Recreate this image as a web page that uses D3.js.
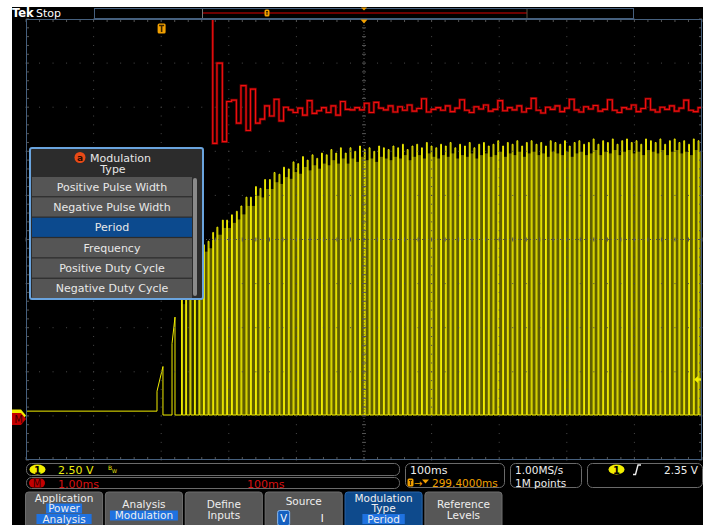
<!DOCTYPE html>
<html>
<head>
<meta charset="utf-8">
<script src="https://cdn.jsdelivr.net/npm/d3@7"></script>
<style>
  body { margin: 0; background: #fff; }
  svg { display: block; }
  text { font-family: "DejaVu Sans", sans-serif; }
</style>
</head>
<body>
<script>
// scope settings
var horizMsPerDiv = 100;
var delayMs = 299.4;
var ch1VoltsPerDiv = 2.5;
var ch1PosDiv = -4.0;
var mathMsPerDiv = 1.0;
var mathPosDiv = -4.07;
var trigLevelV = 2.35;

// CH1 (yellow) : idle / low levels and the first two start-up pulses
var idleLevelV = 0.27;
var lowLevelV = 0.05;
var startRiseMs = [-6.8, 15.4];
var startFallMs = [2.0, 19.8];
var startTopV0 = [1.4, 4.1];
var startTopV1 = [2.8, 5.6];

// periods of the pulses before the math trace begins
var earlyStartMs = 29.4;
var earlyPeriodMs = [6.2, 6.4, 6.6, 6.6, 6.8, 6.8, 6.8];
var pulseOnMs = 1.3;

// math trace (period of each cycle, ms)
var mathStartMs = 75.6;
var mathOverMs = 11.5;
var mathPeriodMs = [
  6.25, 8.07, 6.29, 7.20, 7.23, 6.71, 7.56, 6.54, 7.48, 6.71,
  6.80, 7.10, 6.87, 7.25, 6.76, 7.07, 7.01, 6.95, 7.05, 6.89,
  7.22, 6.93, 6.99, 7.06, 6.95, 7.10, 6.89, 7.20, 7.02, 7.01,
  7.06, 7.01, 7.16, 6.95, 7.18, 7.05, 7.01, 7.10, 6.96,
  7.08, 7.00, 7.12, 6.98, 7.04, 7.26, 6.96, 7.02, 7.06, 7.00,
  7.10, 6.97, 7.05, 7.24, 7.00, 6.95, 7.08, 7.03, 7.12, 6.98,
  7.02, 7.22, 6.99, 7.06, 7.01, 7.10, 6.96, 7.04, 7.27, 7.00,
  6.94, 7.07, 7.02, 7.10, 6.97, 7.05, 7.25, 7.01, 6.96, 7.08,
  7.03, 7.11, 6.98, 7.02, 7.24, 7.00, 6.95, 7.06, 7.03, 7.12,
  6.97, 7.04, 7.26, 7.01, 6.96, 7.07, 7.02, 7.10, 6.98, 7.05,
  7.23, 7.00, 6.97, 7.06, 7.04
];

// pulse tops (V) for the early pulses followed by one per math cycle
var pulseTopV = [
  6.6, 7.3, 7.6, 8.5, 8.9, 9.7, 9.9,
  10.4, 10.7, 11.1, 11.1, 11.4, 11.6, 11.9, 12.4, 12.4, 13.0,
  12.9, 13.4, 13.4, 13.8, 13.7, 14.1, 14.0, 14.4, 14.3, 14.7,
  14.5, 14.8, 14.6, 14.9, 14.8, 15.1, 14.9, 15.2, 14.9, 15.2,
  15.0, 15.3, 15.1, 15.2, 15.0, 15.3, 15.2, 15.1, 15.3, 15.2,
  15.4, 15.1, 15.3, 15.4, 15.2, 15.5, 15.3, 15.2, 15.4, 15.3,
  15.5, 15.2, 15.4, 15.3, 15.5, 15.2, 15.4, 15.5, 15.3, 15.4,
  15.6, 15.3, 15.5, 15.4, 15.6, 15.3, 15.5, 15.6, 15.4, 15.5,
  15.3, 15.6, 15.5, 15.4, 15.6, 15.3, 15.5, 15.6, 15.4, 15.5,
  15.7, 15.4, 15.6, 15.5, 15.7, 15.4, 15.6, 15.7, 15.5, 15.6,
  15.4, 15.7, 15.6, 15.5, 15.7, 15.4, 15.6, 15.7, 15.5, 15.6,
  15.4, 15.7, 15.6, 15.5
];

var menuTitle = ["Modulation", "Type"];
var menuItems = ["Positive Pulse Width", "Negative Pulse Width", "Period",
                 "Frequency", "Positive Duty Cycle", "Negative Duty Cycle"];
var menuSelected = 2;

var buttons = [
  {lines: ["Application"], hl: ["Power", "Analysis"]},
  {lines: ["Analysis"], hl: ["Modulation"]},
  {lines: ["Define", "Inputs"], hl: []},
  {lines: ["Source"], hl: []},
  {lines: ["Modulation", "Type"], hl: ["Period"]},
  {lines: ["Reference", "Levels"], hl: []}
];

// layout
var W = 711, H = 525;
var gx0 = 26, gx1 = 702, gy0 = 19, gy1 = 460;

var svg = d3.select("body").append("svg")
    .attr("width", W)
    .attr("height", H);

svg.append("rect").attr("width", W).attr("height", H).attr("fill", "#fff");
svg.append("rect").attr("x", 12).attr("y", 7).attr("width", 691).attr("height", H - 7).attr("fill", "#000");

var xScale = d3.scaleLinear()
    .domain([delayMs - 5 * horizMsPerDiv, delayMs + 5 * horizMsPerDiv])
    .range([gx0, gx1]);
var divX = d3.scaleLinear().domain([-5, 5]).range([gx0, gx1]);
var divY = d3.scaleLinear().domain([-5, 5]).range([gy1, gy0]);
var ch1Y = function(v) { return divY(v / ch1VoltsPerDiv + ch1PosDiv); };
var mathY = function(ms) { return divY(ms / mathMsPerDiv + mathPosDiv); };

svg.append("defs").append("clipPath").attr("id", "grat")
  .append("rect").attr("x", gx0).attr("y", gy0).attr("width", gx1 - gx0).attr("height", gy1 - gy0);

var minorX = d3.range(0, 50.01, 1).map(function(i) { return -5 + i / 5; });
var minorY = d3.range(0, 50.01, 1).map(function(i) { return -5 + i / 5; });

// ---- waveforms
var edges = [];
var t = earlyStartMs;
earlyPeriodMs.forEach(function(p) { edges.push(t); t += p; });
var mathEdges = [];
t = mathStartMs;
mathPeriodMs.forEach(function(p) { edges.push(t); mathEdges.push(t); t += p; });
var lastEdge = t;

var wave = svg.append("g").attr("clip-path", "url(#grat)");

// dim persistence fill between the fast pulses
wave.selectAll("rect.fill")
  .data(edges)
  .enter().append("rect")
    .attr("class", "fill")
    .attr("x", function(d) { return xScale(d); })
    .attr("width", function(d, i) { return xScale(i + 1 < edges.length ? edges[i + 1] : lastEdge) - xScale(d); })
    .attr("y", function(d, i) { return ch1Y(pulseTopV[i] * 0.96); })
    .attr("height", function(d, i) { return ch1Y(lowLevelV) - ch1Y(pulseTopV[i] * 0.96); })
    .attr("fill", function(d, i) { return i < 4 ? "#2a2900" : "#605e00"; });

var pts = [{t: xScale.domain()[0], v: idleLevelV}];
var level = idleLevelV;
startRiseMs.forEach(function(r, i) {
  pts.push({t: r, v: level}, {t: r, v: startTopV0[i]}, {t: startFallMs[i], v: startTopV1[i]}, {t: startFallMs[i], v: lowLevelV});
  level = lowLevelV;
});
edges.forEach(function(r, i) {
  pts.push({t: r, v: lowLevelV}, {t: r, v: pulseTopV[i]}, {t: r + pulseOnMs, v: pulseTopV[i]}, {t: r + pulseOnMs, v: lowLevelV});
});
pts.push({t: xScale.domain()[1], v: lowLevelV});

var ch1Line = d3.line()
    .x(function(d) { return xScale(d.t); })
    .y(function(d) { return ch1Y(d.v); });

wave.append("path")
    .datum(pts)
    .attr("fill", "none")
    .attr("stroke", "#f2ee00")
    .attr("stroke-width", 1)
    .attr("d", ch1Line);

// ---- graticule (dots show through the traces)
var grid = svg.append("g");
d3.range(-4, 5).forEach(function(d) {
  if (d === 0) return;
  minorY.forEach(function(m) {
    grid.append("rect").attr("x", divX(d) - 0.5).attr("y", divY(m) - 0.5)
      .attr("width", 1).attr("height", 1).attr("fill", "#4a4a4a");
  });
  minorX.forEach(function(m) {
    grid.append("rect").attr("x", divX(m) - 0.5).attr("y", divY(d) - 0.5)
      .attr("width", 1).attr("height", 1).attr("fill", "#4a4a4a");
  });
});
grid.append("line").attr("x1", divX(0)).attr("x2", divX(0)).attr("y1", gy0).attr("y2", gy1)
  .attr("stroke", "#555").attr("stroke-dasharray", "1,2");
grid.append("line").attr("x1", gx0).attr("x2", gx1).attr("y1", divY(0)).attr("y2", divY(0))
  .attr("stroke", "#555").attr("stroke-dasharray", "1,2");
minorY.forEach(function(m) {
  grid.append("line").attr("x1", divX(0) - 2).attr("x2", divX(0) + 2).attr("y1", divY(m)).attr("y2", divY(m)).attr("stroke", "#555");
  grid.append("line").attr("x1", gx0).attr("x2", gx0 + 3).attr("y1", divY(m)).attr("y2", divY(m)).attr("stroke", "#555");
  grid.append("line").attr("x1", gx1 - 3).attr("x2", gx1).attr("y1", divY(m)).attr("y2", divY(m)).attr("stroke", "#555");
});
minorX.forEach(function(m) {
  grid.append("line").attr("y1", divY(0) - 2).attr("y2", divY(0) + 2).attr("x1", divX(m)).attr("x2", divX(m)).attr("stroke", "#555");
  grid.append("line").attr("y1", gy0).attr("y2", gy0 + 3).attr("x1", divX(m)).attr("x2", divX(m)).attr("stroke", "#555");
  grid.append("line").attr("y1", gy1 - 3).attr("y2", gy1).attr("x1", divX(m)).attr("x2", divX(m)).attr("stroke", "#555");
});

var mathPts = [{t: mathStartMs - 10, v: mathOverMs}];
mathEdges.forEach(function(e, i) { mathPts.push({t: e, v: mathPeriodMs[i]}); });
mathPts.push({t: lastEdge, v: mathPeriodMs[mathPeriodMs.length - 1]});

var mathLine = d3.line()
    .curve(d3.curveStepAfter)
    .x(function(d) { return xScale(d.t); })
    .y(function(d) { return mathY(d.v); });

var mwave = svg.append("g").attr("clip-path", "url(#grat)");
mwave.append("path").datum(mathPts)
    .attr("fill", "none").attr("stroke", "#6e0000").attr("stroke-width", 2.6)
    .attr("d", mathLine);
mwave.append("path").datum(mathPts)
    .attr("fill", "none").attr("stroke", "#f01010").attr("stroke-width", 1.1)
    .attr("d", mathLine);

svg.append("rect").attr("x", gx0 + 0.5).attr("y", gy0 + 0.5).attr("width", gx1 - gx0 - 1).attr("height", gy1 - gy0 - 1)
  .attr("fill", "none").attr("stroke", "#46607e");

// ---- top bar
svg.append("text").attr("x", 12).attr("y", 17).attr("fill", "#fff").attr("font-size", 11.5).attr("font-weight", "bold").text("Tek");
svg.append("text").attr("x", 36).attr("y", 17).attr("fill", "#fff").attr("font-size", 11).text("Stop");
svg.append("rect").attr("x", 94.5).attr("y", 8.5).attr("width", 539).attr("height", 10).attr("fill", "#000").attr("stroke", "#46607e");
svg.append("line").attr("x1", 203).attr("x2", 527).attr("y1", 13).attr("y2", 13).attr("stroke", "#6e0000").attr("stroke-width", 2);
svg.append("line").attr("x1", 202.5).attr("x2", 202.5).attr("y1", 9).attr("y2", 18).attr("stroke", "#777");
svg.append("line").attr("x1", 527).attr("x2", 527).attr("y1", 9).attr("y2", 18).attr("stroke", "#5a5040");

function trigBadge(g, x, y, w, h) {
  g.append("rect").attr("x", x).attr("y", y).attr("width", w).attr("height", h).attr("rx", 1.5).attr("fill", "#f2a000");
  g.append("path").attr("d", "M" + (x + 1.5) + "," + (y + 2) + "h" + (w - 3) + "M" + (x + w / 2) + "," + (y + 2) + "v" + (h - 3.5))
    .attr("stroke", "#3a2400").attr("stroke-width", w > 6 ? 1.6 : 1.1);
}
trigBadge(svg, 264.5, 9.5, 5, 7);
trigBadge(svg, xScale(0) - 4, 23.5, 8, 10);

var expX = xScale(delayMs);
svg.append("path").attr("d", "M" + (expX - 3) + ",7.5h6l-3,3z").attr("fill", "#f2a000");
svg.append("path").attr("d", "M" + (expX - 3.5) + ",19.5h7l-3.5,4z").attr("fill", "#f2a000");

// trigger level arrow at the right edge
var trigY = ch1Y(trigLevelV) + 5;
svg.append("path").attr("d", "M694," + trigY + "l4,-3.5v2.2h3v2.6h-3v2.2z").attr("fill", "#f2ee00");

// ground markers on the left (CH1 sits behind the math marker)
var m1 = ch1Y(0) - 0.5;
svg.append("path").attr("d", "M12," + (m1 - 6) + "h9l5,6l-5,6h-9z").attr("fill", "#f2ee00");
var mm = mathY(0);
svg.append("path").attr("d", "M12," + (mm - 6) + "h9l5,6l-5,6h-9z").attr("fill", "#c40000");
svg.append("text").attr("x", 18.5).attr("y", mm + 4).attr("text-anchor", "middle").attr("font-size", 10)
  .attr("fill", "#3a0000").text("M");

// ---- menu
var menu = svg.append("g");
var mx = 30, my = 148, mw = 173, mh = 151;
menu.append("rect").attr("x", mx).attr("y", my).attr("width", mw).attr("height", mh).attr("rx", 2)
  .attr("fill", "#2c2c2c").attr("stroke", "#6aa4de").attr("stroke-width", 2);
menu.append("circle").attr("cx", 80).attr("cy", 157.5).attr("r", 5.5).attr("fill", "#ea4a16");
menu.append("text").attr("x", 80).attr("y", 160.5).attr("text-anchor", "middle").attr("font-size", 9)
  .attr("font-weight", "bold").attr("fill", "#2a0a00").text("a");
menu.append("text").attr("x", 90).attr("y", 161.5).attr("font-size", 11).attr("fill", "#e6e6e6").text(menuTitle[0]);
menu.append("text").attr("x", 113).attr("y", 173).attr("text-anchor", "middle").attr("font-size", 11).attr("fill", "#e6e6e6").text(menuTitle[1]);
var rowY = d3.scaleBand().domain(d3.range(menuItems.length)).range([177, 298]).paddingInner(0.06);
menu.selectAll("rect.item").data(menuItems).enter().append("rect")
  .attr("class", "item")
  .attr("x", 32).attr("y", function(d, i) { return rowY(i); })
  .attr("width", 160).attr("height", rowY.bandwidth())
  .attr("fill", function(d, i) { return i === menuSelected ? "#0c4a8e" : "#555"; });
menu.selectAll("text.item").data(menuItems).enter().append("text")
  .attr("class", "item")
  .attr("x", 112).attr("y", function(d, i) { return rowY(i) + rowY.bandwidth() / 2 + 4; })
  .attr("text-anchor", "middle").attr("font-size", 11).attr("fill", "#e8e8e8")
  .text(function(d) { return d; });
menu.append("rect").attr("x", 193).attr("y", 178).attr("width", 4).attr("height", 118).attr("rx", 2).attr("fill", "#8a8a8a");

// ---- readouts
var stat = svg.append("g");
stat.append("rect").attr("x", 26.5).attr("y", 463.5).attr("width", 373).attr("height", 12).attr("rx", 5)
  .attr("fill", "none").attr("stroke", "#6a6a6a");
stat.append("rect").attr("x", 26.5).attr("y", 477.5).attr("width", 373).attr("height", 11).attr("rx", 5)
  .attr("fill", "none").attr("stroke", "#6a6a6a");
stat.append("ellipse").attr("cx", 37.5).attr("cy", 469.5).attr("rx", 8).attr("ry", 5).attr("fill", "#f2ee00");
stat.append("text").attr("x", 37.5).attr("y", 473.5).attr("text-anchor", "middle").attr("font-size", 10).attr("font-weight", "bold").attr("fill", "#000").text("1");
stat.append("text").attr("x", 58).attr("y", 473.5).attr("font-size", 11).attr("fill", "#ecec10").text("2.50 V");
stat.append("text").attr("x", 108).attr("y", 470).attr("font-size", 6).attr("fill", "#ecec10").text("B");
stat.append("text").attr("x", 112).attr("y", 473).attr("font-size", 5).attr("fill", "#ecec10").text("W");
stat.append("rect").attr("x", 29).attr("y", 478.5).attr("width", 16).attr("height", 9).attr("rx", 4.5).attr("fill", "#c40000");
stat.append("text").attr("x", 37).attr("y", 487).attr("text-anchor", "middle").attr("font-size", 10).attr("fill", "#3a0000").text("M");
stat.append("text").attr("x", 58).attr("y", 487.5).attr("font-size", 11).attr("fill", "#d81010").text("1.00ms");
stat.append("text").attr("x", 247).attr("y", 487.5).attr("font-size", 11).attr("fill", "#d81010").text("100ms");

stat.append("rect").attr("x", 405.5).attr("y", 463.5).attr("width", 99).attr("height", 24).attr("rx", 5)
  .attr("fill", "none").attr("stroke", "#6a6a6a");
stat.append("text").attr("x", 410).attr("y", 473.5).attr("font-size", 11).attr("fill", "#eee").text("100ms");
trigBadge(stat, 407.5, 478.5, 6, 8);
stat.append("text").attr("x", 414).attr("y", 486.5).attr("font-size", 10).attr("fill", "#f2a000").text("→");
stat.append("path").attr("d", "M422,479.5h7l-3.5,4z").attr("fill", "#f2a000");
stat.append("text").attr("x", 432).attr("y", 487).attr("font-size", 10.5).attr("fill", "#f2a000").text("299.4000ms");

stat.append("rect").attr("x", 510.5).attr("y", 463.5).attr("width", 71).attr("height", 24).attr("rx", 5)
  .attr("fill", "none").attr("stroke", "#6a6a6a");
stat.append("text").attr("x", 515).attr("y", 473.5).attr("font-size", 10.5).attr("fill", "#eee").text("1.00MS/s");
stat.append("text").attr("x", 515).attr("y", 487).attr("font-size", 10.5).attr("fill", "#eee").text("1M points");

stat.append("rect").attr("x", 587.5).attr("y", 463.5).attr("width", 115).attr("height", 24).attr("rx", 5)
  .attr("fill", "none").attr("stroke", "#6a6a6a");
stat.append("ellipse").attr("cx", 616.5).attr("cy", 469.5).attr("rx", 8).attr("ry", 5).attr("fill", "#f2ee00");
stat.append("text").attr("x", 616.5).attr("y", 473.5).attr("text-anchor", "middle").attr("font-size", 10).attr("font-weight", "bold").attr("fill", "#000").text("1");
stat.append("path").attr("d", "M633,474.5h2.5l2.5,-9.5h3").attr("fill", "none").attr("stroke", "#eee").attr("stroke-width", 1.4);
stat.append("text").attr("x", 698).attr("y", 473.5).attr("text-anchor", "end").attr("font-size", 10.5).attr("fill", "#eee").text("2.35 V");

// ---- soft buttons
var btnX = d3.scaleBand().domain(d3.range(6)).range([25.5, 502]).paddingInner(0.035);
var btn = svg.selectAll("g.btn").data(buttons).enter().append("g").attr("class", "btn")
  .attr("transform", function(d, i) { return "translate(" + btnX(i) + ",492)"; });
btn.append("path")
  .attr("d", function() { var w = btnX.bandwidth(); return "M0,40V3Q0,0 3,0H" + (w - 3) + "Q" + w + ",0 " + w + ",3V40Z"; })
  .attr("fill", function(d, i) { return i === 4 ? "#0e4a8c" : "#575757"; })
  .attr("stroke", function(d, i) { return i === 4 ? "#2a64a8" : "#6e6e6e"; });

btn.each(function(d, i) {
  var g = d3.select(this);
  var cx = btnX.bandwidth() / 2;
  var all = d.lines.concat(d.hl);
  var three = all.length === 3;
  var step = three ? 10.5 : 11.5;
  var base = three ? 9.5 : (i === 3 ? 12.5 : 15.5);
  all.forEach(function(s, k) {
    var y = base + k * step;
    if (k >= d.lines.length) {
      var w = s.length * 6.4 + 4;
      g.append("rect").attr("x", cx - w / 2).attr("y", y - 8.5).attr("width", w).attr("height", 10)
        .attr("fill", "#1f72e0");
    }
    g.append("text").attr("x", cx).attr("y", y).attr("text-anchor", "middle")
      .attr("font-size", 10.5).attr("fill", "#eee").text(s);
  });
  if (i === 3) {
    g.append("rect").attr("x", 12.5).attr("y", 18.5).attr("width", 12).attr("height", 15).attr("rx", 2)
      .attr("fill", "#1560c0").attr("stroke", "#8ab8ee");
    g.append("text").attr("x", 18.5).attr("y", 30).attr("text-anchor", "middle").attr("font-size", 10).attr("fill", "#fff").text("V");
    g.append("text").attr("x", 57).attr("y", 30).attr("text-anchor", "middle").attr("font-size", 10).attr("fill", "#fff").text("I");
  }
});
</script>
</body>
</html>
